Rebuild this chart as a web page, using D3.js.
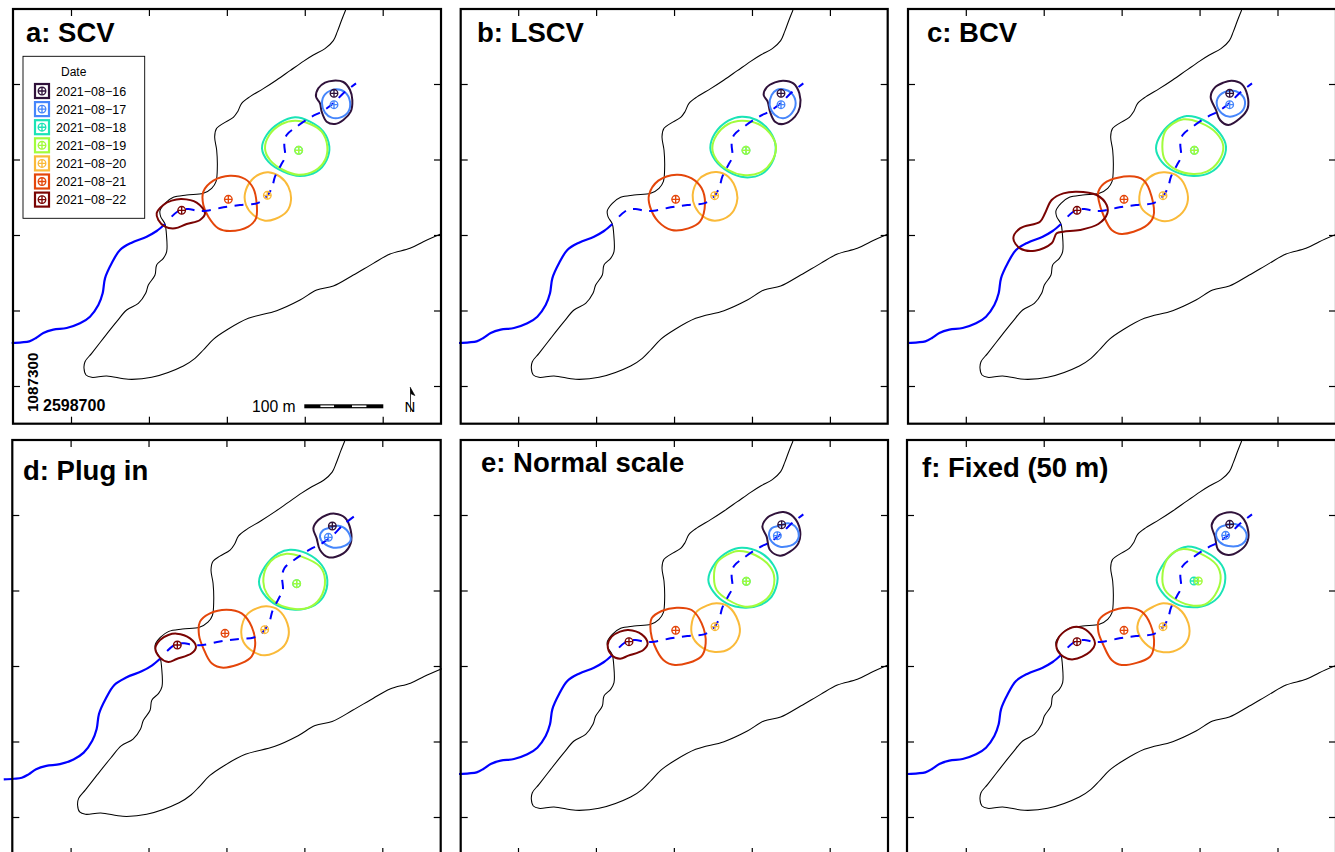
<!DOCTYPE html>
<html><head><meta charset="utf-8">
<script src="https://cdn.jsdelivr.net/npm/d3@7/dist/d3.min.js"></script>
<style>html,body{margin:0;padding:0;background:#fff;overflow:hidden}svg{display:block;font-family:"Liberation Sans",Arial,sans-serif}</style>
</head><body><svg id="c" width="1335" height="852"></svg>
<script>
// Category data
const dates=["2021−08−16","2021−08−17","2021−08−18","2021−08−19","2021−08−20","2021−08−21","2021−08−22"];
const dateColors=["#30123B","#4686FB","#1AE4B6","#A2FC3C","#FABA39","#E4460A","#7A0403"];
const eastTicks=[2598700,2598800,2598900,2599000,2599100];
const northTicks=[1087300,1087400,1087500,1087600,1087700];
// Map features, in survey-sheet units
const outline=[[1037,30],[1025,60],[1012,95],[1000,122],[975,146],[940,165],[910,184],[870,212],[830,240],[790,266],[750,290],[725,310],[713,335],[700,352],[670,370],[650,385],[644,410],[650,450],[652,500],[648,545],[635,565],[610,580],[560,585],[520,592],[495,610],[480,632],[482,650],[495,672],[499,700],[500,755],[490,775],[470,795],[465,825],[445,855],[437,880],[415,910],[380,930],[350,965],[310,1015],[275,1060],[255,1085],[252,1105],[258,1125],[275,1132],[320,1128],[385,1138],[455,1132],[550,1098],[585,1075],[610,1050],[640,1018],[680,990],[745,955],[830,932],[900,900],[950,870],[1000,858],[1060,825],[1120,790],[1170,762],[1230,745],[1270,725],[1322,702]];
const trackSolid=[[35,1029],[65,1027],[88,1024],[108,1014],[130,999],[160,989],[200,984],[240,970],[270,950],[295,915],[308,880],[315,835],[335,790],[360,750],[395,728],[440,710],[470,693],[495,672]];
const trackDashed=[[515,650],[540,630],[565,627],[590,632],[620,632],[670,622],[720,615],[770,610],[795,595],[815,565],[825,530],[843,495],[855,470],[853,430],[860,405],[890,380],[935,350],[965,335],[1000,310],[1030,280],[1068,250]];
// Home-range contours and centres, one list per panel (index follows dates; null = none)
const contoursA=[
[[1000,242],[1030,246],[1050,270],[1057,300],[1052,335],[1030,360],[1005,372],[980,365],[965,335],[960,310],[948,290],[955,265],[975,248]],
[[1008,268],[1035,277],[1050,305],[1045,335],[1020,353],[995,353],[975,338],[966,310],[975,283]],
[[885,352],[930,365],[970,395],[988,440],[980,480],[950,515],[900,528],[850,515],[805,485],[786,445],[800,405],[840,368]],
[[885,362],[930,372],[965,395],[982,440],[975,480],[945,512],[895,524],[850,510],[810,480],[795,445],[808,405],[845,372]],
[[805,517],[840,530],[865,560],[873,600],[860,635],[825,657],[795,662],[760,645],[738,615],[735,580],[755,540],[780,522]],
[[690,527],[735,537],[760,565],[770,610],[768,655],[745,680],[690,693],[655,685],[625,650],[610,615],[610,575],[640,542]],
[[545,597],[590,608],[615,640],[600,660],[560,672],[525,685],[495,680],[475,660],[470,640],[490,615],[515,602]]];
const centresA=[[1002,280],[1002,314],[896,451],[896,451],[802,586],[685,598],[545,631]];
const contoursB=[
[[985,242],[1015,250],[1033,280],[1035,320],[1020,350],[985,372],[960,365],[945,335],[938,305],[926,285],[935,262],[960,247]],
[[985,268],[1010,280],[1022,310],[1010,340],[985,355],[960,345],[944,315],[950,285],[965,270]],
[[860,350],[905,360],[945,395],[962,440],[950,490],[920,522],[870,532],[820,515],[780,480],[766,445],[780,400],[820,362]],
[[860,362],[910,372],[945,400],[963,440],[950,485],[915,518],[865,525],[820,510],[785,480],[772,445],[785,405],[820,372]],
[[785,516],[820,530],[845,575],[845,610],[825,645],[780,662],[745,650],[720,620],[713,585],[730,540],[755,522]],
[[665,524],[710,535],[740,565],[750,610],[735,665],[700,685],[650,690],[610,665],[585,620],[582,585],[610,542]],
null];
const centresB=[[978,280],[978,314],[873,451],[873,451],[779,587],[662,598],null];
const contoursC=[
[[995,242],[1025,252],[1042,285],[1043,325],[1020,355],[985,375],[960,360],[948,330],[932,290],[945,262],[970,248]],
[[990,272],[1020,280],[1035,305],[1025,335],[990,350],[965,340],[950,310],[960,285]],
[[860,348],[910,360],[960,400],[978,440],[965,485],[930,518],[880,528],[825,515],[785,485],[768,445],[785,400],[825,362]],
[[850,358],[900,368],[950,400],[970,440],[955,485],[920,515],[880,522],[830,510],[795,480],[787,440],[795,395],[820,370]],
[[795,517],[835,530],[860,570],[862,610],[840,645],[795,664],[755,650],[725,625],[718,590],[735,545],[765,522]],
[[690,529],[730,540],[755,590],[760,650],[735,680],[665,702],[635,690],[610,645],[597,605],[595,575],[620,545]],
[[530,575],[590,585],[620,615],[622,640],[595,672],[540,690],[490,695],[470,700],[455,730],[405,752],[360,745],[340,715],[360,685],[420,665],[435,640],[455,600],[490,580]]];
const centresC=[[989,280],[989,314],[883,451],[883,451],[789,587],[672,598],[531,631]];
const contoursD=[
[[1005,236],[1035,248],[1052,285],[1052,325],[1030,355],[985,367],[960,345],[950,310],[940,280],[955,255],[980,240]],
[[1015,272],[1040,285],[1052,315],[1035,332],[1000,338],[972,325],[960,305],[970,285],[990,278]],
[[870,344],[920,355],[965,390],[982,435],[970,485],[935,515],[885,524],[830,510],[790,475],[777,440],[795,395],[835,355]],
[[860,356],[905,365],[960,395],[975,435],[960,490],[925,518],[885,522],[830,505],[800,475],[790,440],[800,395],[825,368]],
[[800,514],[835,525],[862,565],[865,605],[845,640],[795,661],[760,650],[730,620],[724,585],[740,540],[770,520]],
[[680,524],[725,535],[755,575],[765,635],[750,670],[670,698],[635,685],[610,640],[597,600],[600,560],[630,535]],
[[530,596],[570,610],[588,635],[575,655],[530,672],[505,681],[480,668],[466,640],[480,615],[505,600]]];
const centresD=[[997,273],[985,307],[890,446],[890,446],[794,584],[675,595],[532,630]];
const contoursE=[
[[985,231],[1015,245],[1035,285],[1030,325],[1005,350],[975,362],[945,345],[935,305],[922,275],[935,250],[960,236]],
[[1000,265],[1025,280],[1030,310],[1015,328],[975,335],[950,320],[942,300],[950,280],[975,272]],
[[860,338],[915,352],[955,390],[968,430],[950,485],[915,510],[870,518],[815,505],[775,470],[760,435],[780,385],[820,350]],
[[850,348],[900,360],[945,395],[958,430],[945,480],[905,510],[870,515],[820,495],[785,465],[777,430],[785,385],[815,360]],
[[785,505],[820,515],[850,560],[853,600],[825,640],[780,651],[745,640],[715,610],[709,575],[725,530],[755,512]],
[[665,518],[710,525],[740,565],[752,625],[738,665],[660,690],[625,675],[598,630],[587,590],[590,550],[620,528]],
[[520,585],[560,598],[578,625],[565,645],[520,662],[495,671],[470,660],[458,630],[470,605],[495,590]]];
const centresE=[[980,269],[967,302],[874,439],[874,439],[780,575],[662,586],[522,620]];
const contoursF=[
[[995,232],[1025,245],[1045,290],[1040,325],[1015,350],[985,360],[955,345],[945,305],[935,270],[950,245],[970,235]],
[[1005,267],[1030,280],[1040,305],[1025,328],[985,333],[958,320],[948,300],[958,278],[980,270]],
[[860,335],[915,350],[965,390],[976,430],[960,480],[925,508],[880,517],[825,505],[785,470],[770,435],[785,395],[825,350]],
[[850,342],[900,355],[950,390],[962,430],[945,480],[915,508],[880,512],[830,495],[795,465],[787,430],[800,375],[825,350]],
[[790,505],[835,520],[865,565],[865,610],[840,640],[790,652],[755,640],[720,605],[712,575],[730,535],[760,515]],
[[685,518],[725,530],[752,570],[762,630],[750,665],[665,690],[635,675],[610,630],[595,590],[597,555],[630,530]],
[[530,575],[565,590],[585,625],[570,650],[520,673],[490,665],[470,640],[475,610],[500,585]]];
const centresF=[[989,268],[977,301],[882,438],[895,438],[789,575],[672,586],[531,620]];
const titles=["a: SCV","b: LSCV","c: BCV","d: Plug in","e: Normal scale","f: Fixed (50 m)"];

// Panel layout
const panels=[
 {t:0,ct:contoursA,ce:centresA,ox:0,oy:0,L:13,R:441,T:9,B:423.7,tx:26,ty:42,dx:0,dy:0,mapA:1,mapB:0,mapC:1,mapD:0},
 {t:1,ct:contoursB,ce:centresB,ox:455,oy:0,L:460.7,R:887.7,T:9,B:423.7,tx:477,ty:42,dx:447.2,dy:0,mapA:1,mapB:-23,mapC:1,mapD:0},
 {t:2,ct:contoursC,ce:centresC,ox:900,oy:0,L:908,R:1336,T:9,B:423.7,tx:927,ty:42,dx:894.8,dy:0,mapA:1,mapB:-12,mapC:1,mapD:0},
 {t:3,ct:contoursD,ce:centresD,ox:0,oy:435,L:12.3,R:440.7,T:440,B:855,tx:23,ty:480,dx:-.4,dy:431,mapA:1.021,mapB:-24.5,mapC:1.0163,mapD:-12.5},
 {t:4,ct:contoursE,ce:centresE,ox:455,oy:435,L:460.7,R:888,T:440,B:855,tx:481,ty:472,dx:447,dy:431,mapA:1,mapB:-23,mapC:1,mapD:-12},
 {t:5,ct:contoursF,ce:centresF,ox:900,oy:435,L:907,R:1336,T:440,B:855,tx:922,ty:477,dx:894.8,dy:431,mapA:1,mapB:-12,mapC:1,mapD:-12}];

const svg=d3.select("#c");
function marker(g,x,y,col){
  const m=g.append("g").attr("transform",`translate(${x},${y})`).attr("fill","none").attr("stroke",col).attr("stroke-width",1.35);
  m.append("circle").attr("r",3.8);
  m.append("path").attr("d","M-3.8,0H3.8M0,-3.8V3.8");
}
panels.forEach(p=>{
  const g=svg.append("g");
  const mx=d3.scaleLinear().domain([0,1000]).range([p.ox+p.mapB/3,p.ox+(p.mapA*1000+p.mapB)/3]);
  const my=d3.scaleLinear().domain([0,1000]).range([p.oy+p.mapD/3,p.oy+(p.mapC*1000+p.mapD)/3]);
  const cx=d3.scaleLinear().domain([0,1000]).range([p.ox,p.ox+1000/3]);
  const cy=d3.scaleLinear().domain([0,1000]).range([p.oy,p.oy+1000/3]);
  const mapLine=d3.line().x(d=>mx(d[0])).y(d=>my(d[1])).curve(d3.curveCatmullRom);
  const ring=d3.line().x(d=>cx(d[0])).y(d=>cy(d[1])).curve(d3.curveCatmullRomClosed.alpha(.5));
  g.append("path").attr("d",mapLine(outline)).attr("fill","none").attr("stroke","#000").attr("stroke-width",1.05);
  g.append("path").attr("d",mapLine(trackSolid)).attr("fill","none").attr("stroke","#0000ff").attr("stroke-width",2.2);
  p.ct.forEach((c,i)=>{ if(c) g.append("path").attr("d",ring(c)).attr("fill","none").attr("stroke",dateColors[i]).attr("stroke-width",2); });
  g.append("path").attr("d",mapLine(trackDashed)).attr("fill","none").attr("stroke","#0000ff").attr("stroke-width",2).attr("stroke-dasharray","9 7.5");
  p.ce.forEach((c,i)=>{ if(c) marker(g,cx(c[0]),cy(c[1]),dateColors[i]); });
  // frame ticks
  const xT=d3.scaleLinear().domain([2598700,2599100]).range([71+p.dx,382.7+p.dx]);
  const yT=d3.scaleLinear().domain([1087300,1087700]).range([386+p.dy,84+p.dy]);
  const sty=s=>{s.select(".domain").remove();s.selectAll("line").attr("stroke","#000").attr("stroke-width",1.2);s.selectAll("text").remove();};
  g.append("g").attr("transform",`translate(0,${p.B})`).call(d3.axisBottom(xT).tickValues(eastTicks).tickSize(-7)).call(sty);
  g.append("g").attr("transform",`translate(0,${p.T})`).call(d3.axisTop(xT).tickValues(eastTicks).tickSize(-7)).call(sty);
  g.append("g").attr("transform",`translate(${p.L},0)`).call(d3.axisLeft(yT).tickValues(northTicks).tickSize(-7)).call(sty);
  g.append("g").attr("transform",`translate(${p.R},0)`).call(d3.axisRight(yT).tickValues(northTicks).tickSize(-7)).call(sty);
  g.append("rect").attr("x",p.L).attr("y",p.T).attr("width",p.R-p.L).attr("height",p.B-p.T).attr("fill","none").attr("stroke","#000").attr("stroke-width",2.2);
  g.append("text").attr("x",p.tx).attr("y",p.ty).attr("font-size",27.5).attr("font-weight","bold").attr("fill","#000").text(titles[p.t]);
});
// Legend, panel a
const lg=svg.append("g");
lg.append("rect").attr("x",23).attr("y",56.3).attr("width",121.7).attr("height",162).attr("fill","#fff").attr("stroke","#000").attr("stroke-width",.9);
lg.append("text").attr("x",61).attr("y",76).attr("font-size",12).attr("fill","#000").text("Date");
const ly=d3.scalePoint().domain(dates).range([91,199.6]);
dates.forEach((d,i)=>{
  lg.append("rect").attr("x",35).attr("y",ly(d)-7).attr("width",14).attr("height",14).attr("fill","#fff").attr("stroke",dateColors[i]).attr("stroke-width",2.2);
  marker(lg,42,ly(d),dateColors[i]);
  lg.append("text").attr("x",56).attr("y",ly(d)+4.5).attr("font-size",12.5).attr("fill","#000").text(d);
});
// Scale bar, coordinates, north arrow, panel a
const an=svg.append("g");
an.append("text").attr("x",252).attr("y",411.5).attr("font-size",15.7).attr("fill","#000").text("100 m");
const sb=d3.scaleLinear().domain([0,100]).range([304.3,383.3]);
an.append("rect").attr("x",sb(0)).attr("y",404.3).attr("width",sb(100)-sb(0)).attr("height",4).attr("fill","#000");
[[20,38],[60,79]].forEach(s=>an.append("rect").attr("x",sb(s[0])+.3).attr("y",405.4).attr("width",sb(s[1])-sb(s[0])-.6).attr("height",1.7).attr("fill","#fff"));
an.append("text").attr("x",43).attr("y",411).attr("font-size",16).attr("font-weight","bold").attr("fill","#000").text("2598700");
an.append("text").attr("transform","translate(37.8,412) rotate(-90)").attr("font-size",15.3).attr("font-weight","bold").attr("fill","#000").text("1087300");
an.append("path").attr("d","M410,387L414.8,395.5L410.5,393.5V412").attr("fill","#000").attr("stroke","#000").attr("stroke-width",.7);
an.append("text").attr("x",410).attr("y",411.5).attr("text-anchor","middle").attr("font-size",15).attr("fill","#000").text("N");
</script></body></html>
